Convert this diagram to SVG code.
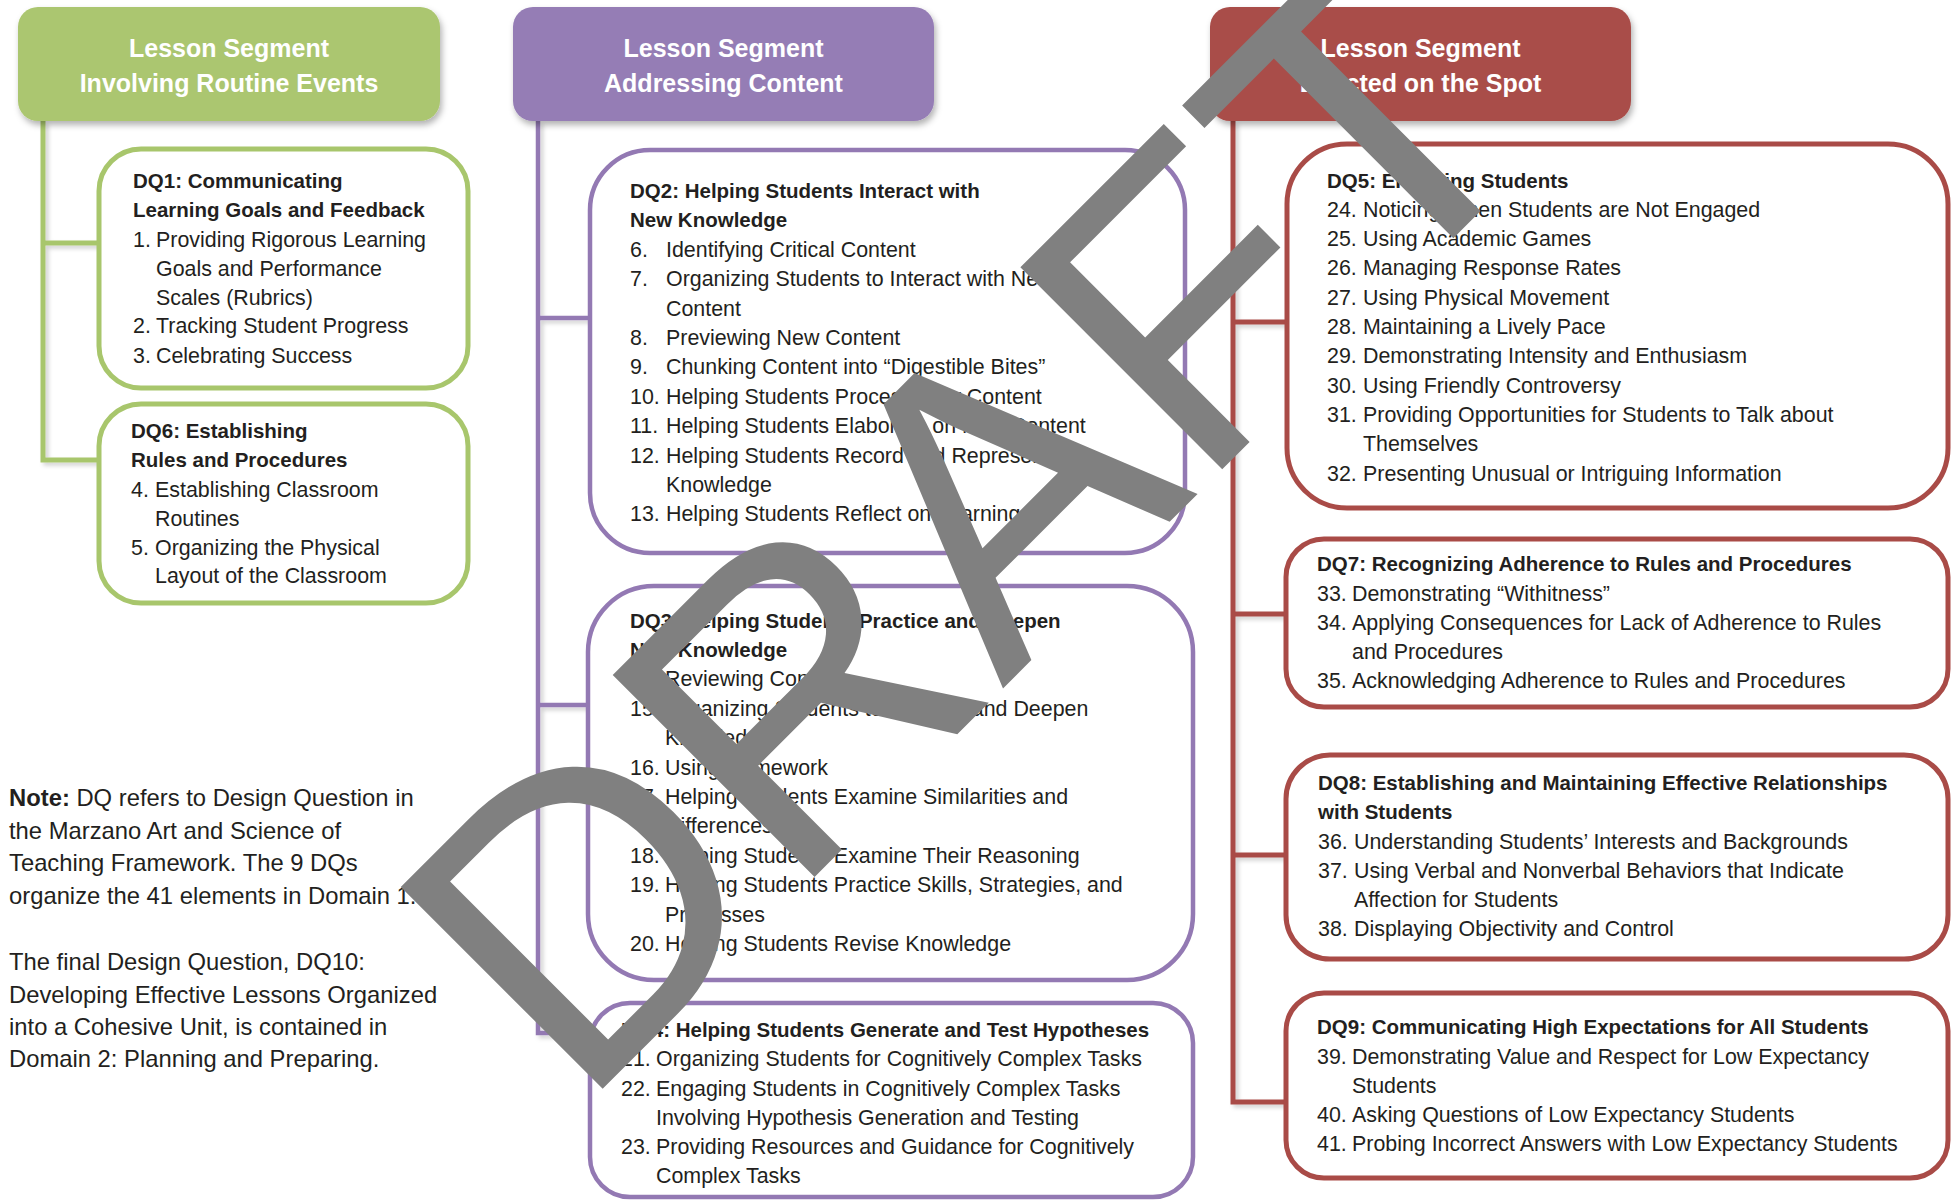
<svg xmlns="http://www.w3.org/2000/svg" width="1952" height="1201" viewBox="0 0 1952 1201">
<defs>
<filter id="sh" x="-10%" y="-10%" width="125%" height="140%">
<feDropShadow dx="2" dy="4" stdDeviation="3" flood-color="#000" flood-opacity="0.3"/>
</filter>
<filter id="lsh" x="-50%" y="-5%" width="300%" height="115%">
<feDropShadow dx="3" dy="3" stdDeviation="2" flood-color="#000" flood-opacity="0.18"/>
</filter>
<style>
text{font-family:"Liberation Sans",Arial,sans-serif}
.hd{font-weight:bold;font-size:25px;fill:#ffffff;text-anchor:middle}
.t{font-size:21.4px;fill:#231f20}
.b{font-size:20.5px;font-weight:bold;fill:#231f20}
.n{font-size:23.8px;fill:#231f20}
.gb{fill:#ffffff;stroke:#a8c66c;stroke-width:5}
.pb{fill:#ffffff;stroke:#9379b3;stroke-width:4.5}
.rb{fill:#ffffff;stroke:#a94b47;stroke-width:5}
.wm{font-size:415px;fill:#808080}
</style>
</defs>
<rect width="1952" height="1201" fill="#ffffff"/>

<g id="connectors" fill="none" filter="url(#lsh)">
<path d="M43 121 V460 H99 M43 243 H99" stroke="#a8c66c" stroke-width="5"/>
<path d="M538 121 V1033 H590 M538 318 H590 M538 705 H588" stroke="#9379b3" stroke-width="4.5"/>
<path d="M1233 121 V1102 H1286 M1233 322 H1287 M1233 614 H1286 M1233 855 H1286" stroke="#a94b47" stroke-width="5"/>
</g>

<g id="hdr-routine">
<rect x="18" y="7" width="422" height="114" rx="20" fill="#abc66f" filter="url(#sh)"/>
<text class="hd" x="229" y="57">Lesson Segment</text>
<text class="hd" x="229" y="92">Involving Routine Events</text>
</g>
<g id="hdr-content">
<rect x="513" y="7" width="421" height="114" rx="20" fill="#957db5" filter="url(#sh)"/>
<text class="hd" x="723.5" y="57">Lesson Segment</text>
<text class="hd" x="723.5" y="92">Addressing Content</text>
</g>
<g id="hdr-spot">
<rect x="1210" y="7" width="421" height="114" rx="20" fill="#a94d49" filter="url(#sh)"/>
<text class="hd" x="1420.5" y="57">Lesson Segment</text>
<text class="hd" x="1420.5" y="92">Enacted on the Spot</text>
</g>

<g id="dq1">
<rect class="gb" x="99" y="149" width="369" height="239" rx="42"/>
<text class="b" x="133" y="188">DQ1: Communicating</text>
<text class="b" x="133" y="217">Learning Goals and Feedback</text>
<text class="t" y="247"><tspan x="133">1.</tspan><tspan x="156">Providing Rigorous Learning</tspan></text>
<text class="t" x="156" y="276">Goals and Performance</text>
<text class="t" x="156" y="305">Scales (Rubrics)</text>
<text class="t" y="333"><tspan x="133">2.</tspan><tspan x="156">Tracking Student Progress</tspan></text>
<text class="t" y="363"><tspan x="133">3.</tspan><tspan x="156">Celebrating Success</tspan></text>
</g>

<g id="dq6">
<rect class="gb" x="99" y="404" width="369" height="199" rx="42"/>
<text class="b" x="131" y="438">DQ6: Establishing</text>
<text class="b" x="131" y="467">Rules and Procedures</text>
<text class="t" y="497"><tspan x="131">4.</tspan><tspan x="155">Establishing Classroom</tspan></text>
<text class="t" x="155" y="526">Routines</text>
<text class="t" y="555"><tspan x="131">5.</tspan><tspan x="155">Organizing the Physical</tspan></text>
<text class="t" x="155" y="583">Layout of the Classroom</text>
</g>

<g id="dq2">
<rect class="pb" x="590" y="150" width="595" height="403" rx="60"/>
<text class="b" x="630" y="198">DQ2: Helping Students Interact with</text>
<text class="b" x="630" y="227.4">New Knowledge</text>
<text class="t" y="256.8"><tspan x="630">6.</tspan><tspan x="666">Identifying Critical Content</tspan></text>
<text class="t" y="286.2"><tspan x="630">7.</tspan><tspan x="666">Organizing Students to Interact with New</tspan></text>
<text class="t" x="666" y="315.6">Content</text>
<text class="t" y="345"><tspan x="630">8.</tspan><tspan x="666">Previewing New Content</tspan></text>
<text class="t" y="374.4"><tspan x="630">9.</tspan><tspan x="666">Chunking Content into “Digestible Bites”</tspan></text>
<text class="t" y="403.8"><tspan x="630">10.</tspan><tspan x="666">Helping Students Process New Content</tspan></text>
<text class="t" y="433.2"><tspan x="630">11.</tspan><tspan x="666">Helping Students Elaborate on New Content</tspan></text>
<text class="t" y="462.6"><tspan x="630">12.</tspan><tspan x="666">Helping Students Record and Represent</tspan></text>
<text class="t" x="666" y="492">Knowledge</text>
<text class="t" y="521.4"><tspan x="630">13.</tspan><tspan x="666">Helping Students Reflect on Learning</tspan></text>
</g>

<g id="dq3">
<rect class="pb" x="588" y="586" width="605" height="394" rx="66"/>
<text class="b" x="630" y="627.5">DQ3: Helping Students Practice and Deepen</text>
<text class="b" x="630" y="656.9">New Knowledge</text>
<text class="t" y="686.3"><tspan x="630">14.</tspan><tspan x="665">Reviewing Content</tspan></text>
<text class="t" y="715.7"><tspan x="630">15.</tspan><tspan x="665">Organizing Students to Practice and Deepen</tspan></text>
<text class="t" x="665" y="745.1">Knowledge</text>
<text class="t" y="774.5"><tspan x="630">16.</tspan><tspan x="665">Using Homework</tspan></text>
<text class="t" y="803.9"><tspan x="630">17.</tspan><tspan x="665">Helping Students Examine Similarities and</tspan></text>
<text class="t" x="665" y="833.3">Differences</text>
<text class="t" y="862.7"><tspan x="630">18.</tspan><tspan x="665">Helping Students Examine Their Reasoning</tspan></text>
<text class="t" y="892.1"><tspan x="630">19.</tspan><tspan x="665">Helping Students Practice Skills, Strategies, and</tspan></text>
<text class="t" x="665" y="921.5">Processes</text>
<text class="t" y="950.9"><tspan x="630">20.</tspan><tspan x="665">Helping Students Revise Knowledge</tspan></text>
</g>

<g id="dq4">
<rect class="pb" x="590" y="1003" width="603" height="194" rx="40"/>
<text class="b" x="621" y="1037">DQ4: Helping Students Generate and Test Hypotheses</text>
<text class="t" y="1066"><tspan x="621">21.</tspan><tspan x="656">Organizing Students for Cognitively Complex Tasks</tspan></text>
<text class="t" y="1095.5"><tspan x="621">22.</tspan><tspan x="656">Engaging Students in Cognitively Complex Tasks</tspan></text>
<text class="t" x="656" y="1125">Involving Hypothesis Generation and Testing</text>
<text class="t" y="1154"><tspan x="621">23.</tspan><tspan x="656">Providing Resources and Guidance for Cognitively</tspan></text>
<text class="t" x="656" y="1183">Complex Tasks</text>
</g>

<g id="dq5">
<rect class="rb" x="1287" y="144" width="661" height="364" rx="60"/>
<text class="b" x="1327" y="187.5">DQ5: Engaging Students</text>
<text class="t" y="216.8"><tspan x="1327">24.</tspan><tspan x="1363">Noticing When Students are Not Engaged</tspan></text>
<text class="t" y="246.1"><tspan x="1327">25.</tspan><tspan x="1363">Using Academic Games</tspan></text>
<text class="t" y="275.4"><tspan x="1327">26.</tspan><tspan x="1363">Managing Response Rates</tspan></text>
<text class="t" y="304.7"><tspan x="1327">27.</tspan><tspan x="1363">Using Physical Movement</tspan></text>
<text class="t" y="334"><tspan x="1327">28.</tspan><tspan x="1363">Maintaining a Lively Pace</tspan></text>
<text class="t" y="363.3"><tspan x="1327">29.</tspan><tspan x="1363">Demonstrating Intensity and Enthusiasm</tspan></text>
<text class="t" y="392.6"><tspan x="1327">30.</tspan><tspan x="1363">Using Friendly Controversy</tspan></text>
<text class="t" y="421.9"><tspan x="1327">31.</tspan><tspan x="1363">Providing Opportunities for Students to Talk about</tspan></text>
<text class="t" x="1363" y="451.2">Themselves</text>
<text class="t" y="480.5"><tspan x="1327">32.</tspan><tspan x="1363">Presenting Unusual or Intriguing Information</tspan></text>
</g>

<g id="dq7">
<rect class="rb" x="1286" y="539" width="662" height="168" rx="38"/>
<text class="b" x="1317" y="571">DQ7: Recognizing Adherence to Rules and Procedures</text>
<text class="t" y="600.5"><tspan x="1317">33.</tspan><tspan x="1352">Demonstrating “Withitness”</tspan></text>
<text class="t" y="630"><tspan x="1317">34.</tspan><tspan x="1352">Applying Consequences for Lack of Adherence to Rules</tspan></text>
<text class="t" x="1352" y="659">and Procedures</text>
<text class="t" y="688"><tspan x="1317">35.</tspan><tspan x="1352">Acknowledging Adherence to Rules and Procedures</tspan></text>
</g>

<g id="dq8">
<rect class="rb" x="1286" y="755" width="662" height="204" rx="44"/>
<text class="b" x="1318" y="790">DQ8: Establishing and Maintaining Effective Relationships</text>
<text class="b" x="1318" y="819">with Students</text>
<text class="t" y="849"><tspan x="1318">36.</tspan><tspan x="1354">Understanding Students’ Interests and Backgrounds</tspan></text>
<text class="t" y="878"><tspan x="1318">37.</tspan><tspan x="1354">Using Verbal and Nonverbal Behaviors that Indicate</tspan></text>
<text class="t" x="1354" y="907">Affection for Students</text>
<text class="t" y="936"><tspan x="1318">38.</tspan><tspan x="1354">Displaying Objectivity and Control</tspan></text>
</g>

<g id="dq9">
<rect class="rb" x="1286" y="993" width="662" height="185" rx="38"/>
<text class="b" x="1317" y="1034">DQ9: Communicating High Expectations for All Students</text>
<text class="t" y="1064"><tspan x="1317">39.</tspan><tspan x="1352">Demonstrating Value and Respect for Low Expectancy</tspan></text>
<text class="t" x="1352" y="1093">Students</text>
<text class="t" y="1122"><tspan x="1317">40.</tspan><tspan x="1352">Asking Questions of Low Expectancy Students</tspan></text>
<text class="t" y="1151"><tspan x="1317">41.</tspan><tspan x="1352">Probing Incorrect Answers with Low Expectancy Students</tspan></text>
</g>

<g id="note">
<text class="n" x="9" y="806"><tspan font-weight="bold">Note:</tspan> DQ refers to Design Question in</text>
<text class="n" x="9" y="838.5">the Marzano Art and Science of</text>
<text class="n" x="9" y="871">Teaching Framework. The 9 DQs</text>
<text class="n" x="9" y="904">organize the 41 elements in Domain 1.</text>
<text class="n" x="9" y="970">The final Design Question, DQ10:</text>
<text class="n" x="9" y="1003">Developing Effective Lessons Organized</text>
<text class="n" x="9" y="1035">into a Cohesive Unit, is contained in</text>
<text class="n" x="9" y="1067">Domain 2: Planning and Preparing.</text>
</g>

<g id="watermark">
<text class="wm" transform="translate(578.6 1112.9) rotate(-45)">DRAFT</text>
</g>
</svg>
